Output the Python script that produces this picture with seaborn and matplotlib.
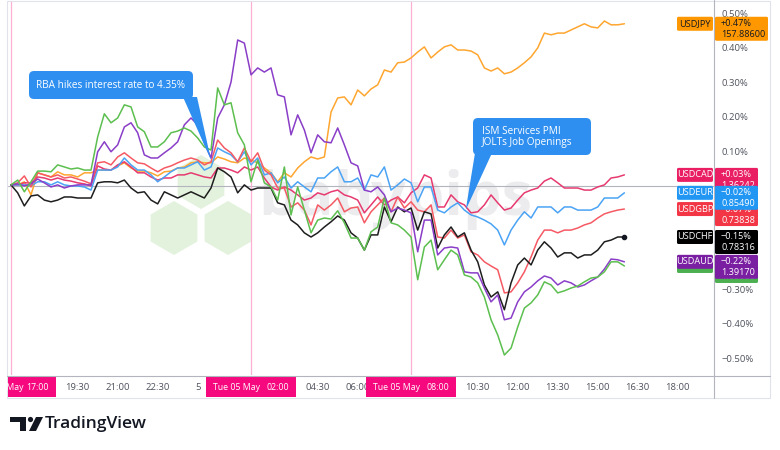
import numpy as np
import pandas as pd
import matplotlib
matplotlib.use("Agg")
import matplotlib.pyplot as plt
import seaborn as sns
from matplotlib.patches import FancyBboxPatch, Polygon, RegularPolygon, Circle, Rectangle

# 15 minute steps, hour 0 = Mon 04 May 17:00
hours = np.arange(93) * 0.25

# % change since the start of the window
usdjpy = [0.003, 0.003, 0.012, -0.026, 0.038, 0.032, 0.026, 0.041, 0.032, 0.032,
          0.026, 0.038, 0.038, 0.046, 0.046, 0.046, 0.058, 0.067, 0.052, 0.043,
          0.043, 0.038, 0.029, 0.041, 0.043, 0.052, 0.055, 0.067, 0.070, 0.067,
          0.067, 0.084, 0.078, 0.070, 0.067, 0.081, 0.075, 0.067, 0.052, 0.038,
          0.012, 0.038, 0.026, 0.052, 0.070, 0.084, 0.078, 0.084, 0.214, 0.255,
          0.258, 0.235, 0.278, 0.261, 0.281, 0.293, 0.336, 0.330, 0.357, 0.359,
          0.371, 0.388, 0.403, 0.371, 0.388, 0.403, 0.409, 0.394, 0.394, 0.391,
          0.380, 0.342, 0.333, 0.342, 0.325, 0.330, 0.342, 0.357, 0.374, 0.400,
          0.443, 0.438, 0.443, 0.443, 0.452, 0.461, 0.470, 0.461, 0.458, 0.478,
          0.467, 0.467, 0.470]
usdcad = [0.003, 0.003, 0.009, 0.009, 0.026, 0.023, 0.017, 0.023, 0.017, 0.014,
          0.009, 0.006, 0.000, 0.058, 0.049, 0.046, 0.061, 0.070, 0.055, 0.038,
          0.038, 0.026, 0.017, 0.023, 0.023, 0.032, 0.032, 0.038, 0.032, 0.026,
          0.023, 0.052, 0.052, 0.046, 0.038, 0.055, 0.046, 0.055, 0.023, -0.003,
          -0.012, -0.003, -0.012, -0.026, -0.041, -0.035, -0.020, -0.026, -0.017, -0.012,
          -0.026, -0.032, -0.041, -0.078, -0.055, -0.032, -0.055, -0.041, -0.032, -0.049,
          -0.020, -0.006, 0.032, 0.023, -0.061, -0.061, -0.026, -0.046, -0.055, -0.078,
          -0.075, -0.055, -0.026, -0.049, -0.070, -0.064, -0.041, -0.020, -0.012, -0.006,
          0.014, 0.023, 0.009, -0.006, -0.006, -0.006, -0.012, -0.012, -0.003, 0.003,
          0.023, 0.026, 0.032]
usdeur = [0.003, 0.003, 0.003, 0.000, 0.012, 0.012, 0.003, 0.012, 0.003, 0.000,
          0.000, -0.003, -0.012, 0.046, 0.046, 0.046, 0.055, 0.081, 0.061, 0.046,
          0.046, 0.032, 0.012, 0.026, 0.041, 0.052, 0.052, 0.061, 0.070, 0.046,
          0.055, 0.110, 0.099, 0.090, 0.070, 0.099, 0.061, 0.081, 0.032, 0.038,
          0.009, 0.026, -0.006, 0.012, -0.003, -0.017, 0.023, 0.023, 0.041, 0.055,
          0.012, 0.012, 0.023, -0.012, 0.032, 0.026, 0.055, -0.012, 0.003, 0.020,
          0.009, -0.046, -0.003, -0.003, -0.070, -0.078, -0.061, -0.049, -0.070, -0.084,
          -0.090, -0.099, -0.110, -0.128, -0.171, -0.128, -0.099, -0.075, -0.093, -0.061,
          -0.061, -0.061, -0.078, -0.061, -0.061, -0.070, -0.070, -0.070, -0.061, -0.035,
          -0.035, -0.035, -0.020]
usdgbp = [0.003, 0.009, 0.029, -0.003, 0.038, 0.032, 0.026, 0.032, 0.023, 0.026,
          0.020, 0.014, 0.006, 0.067, 0.070, 0.061, 0.084, 0.096, 0.081, 0.067,
          0.064, 0.052, 0.041, 0.052, 0.058, 0.067, 0.075, 0.081, 0.075, 0.061,
          0.070, 0.133, 0.110, 0.096, 0.070, 0.110, 0.070, 0.096, 0.046, 0.032,
          -0.006, -0.006, -0.061, -0.049, -0.070, -0.113, -0.055, -0.070, -0.055, -0.035,
          -0.075, -0.064, -0.061, -0.107, -0.075, -0.055, -0.035, -0.075, -0.032, -0.064,
          -0.046, -0.070, -0.075, -0.055, -0.148, -0.151, -0.128, -0.151, -0.142, -0.191,
          -0.200, -0.220, -0.232, -0.243, -0.310, -0.307, -0.281, -0.249, -0.206, -0.157,
          -0.128, -0.128, -0.136, -0.128, -0.128, -0.122, -0.113, -0.107, -0.093, -0.081,
          -0.075, -0.070, -0.067]
usdchf = [0.003, -0.020, -0.058, -0.029, -0.026, -0.041, -0.046, -0.041, -0.032, -0.032,
          -0.035, -0.035, -0.035, 0.009, 0.012, 0.012, 0.009, 0.017, -0.006, -0.020,
          -0.017, -0.041, -0.052, -0.017, -0.026, -0.035, -0.026, -0.017, -0.026, -0.035,
          -0.006, 0.052, 0.041, 0.026, -0.020, 0.003, -0.012, -0.006, -0.006, -0.006,
          -0.049, -0.055, -0.099, -0.113, -0.136, -0.148, -0.136, -0.119, -0.104, -0.087,
          -0.099, -0.136, -0.151, -0.186, -0.142, -0.142, -0.061, -0.104, -0.061, -0.075,
          -0.064, -0.128, -0.075, -0.081, -0.180, -0.142, -0.119, -0.148, -0.136, -0.186,
          -0.220, -0.287, -0.322, -0.307, -0.359, -0.281, -0.229, -0.209, -0.229, -0.186,
          -0.162, -0.180, -0.206, -0.194, -0.194, -0.209, -0.200, -0.200, -0.186, -0.162,
          -0.157, -0.148, -0.148]
usdaud = [0.003, 0.006, 0.000, 0.006, 0.020, 0.009, -0.003, 0.003, -0.006, 0.000,
          0.003, 0.003, 0.003, 0.099, 0.128, 0.099, 0.119, 0.171, 0.183, 0.154,
          0.090, 0.081, 0.081, 0.096, 0.110, 0.128, 0.177, 0.197, 0.177, 0.125,
          0.081, 0.197, 0.235, 0.301, 0.423, 0.414, 0.322, 0.342, 0.330, 0.342,
          0.264, 0.258, 0.148, 0.206, 0.162, 0.096, 0.148, 0.128, 0.125, 0.168,
          0.119, 0.067, 0.058, -0.012, -0.017, -0.003, -0.026, -0.075, -0.064, -0.070,
          -0.078, -0.191, -0.099, -0.099, -0.200, -0.180, -0.177, -0.180, -0.249, -0.252,
          -0.252, -0.296, -0.336, -0.316, -0.388, -0.383, -0.336, -0.307, -0.293, -0.275,
          -0.261, -0.267, -0.287, -0.275, -0.281, -0.293, -0.287, -0.275, -0.264, -0.241,
          -0.212, -0.214, -0.220]
usdnzd = [0.003, 0.017, -0.017, 0.012, 0.043, 0.043, 0.041, 0.061, 0.055, 0.049,
          0.052, 0.046, 0.046, 0.142, 0.209, 0.183, 0.197, 0.235, 0.229, 0.171,
          0.157, 0.113, 0.113, 0.128, 0.154, 0.159, 0.168, 0.159, 0.139, 0.113,
          0.104, 0.284, 0.235, 0.241, 0.154, 0.119, 0.012, 0.075, 0.009, -0.003,
          -0.041, 0.055, -0.084, -0.003, -0.070, -0.136, -0.099, -0.093, -0.096, -0.072,
          -0.107, -0.151, -0.151, -0.186, -0.133, -0.119, -0.035, -0.107, -0.113, -0.128,
          -0.148, -0.272, -0.177, -0.157, -0.243, -0.214, -0.186, -0.200, -0.258, -0.264,
          -0.281, -0.322, -0.388, -0.432, -0.490, -0.470, -0.409, -0.354, -0.339, -0.316,
          -0.278, -0.287, -0.310, -0.304, -0.296, -0.290, -0.278, -0.267, -0.264, -0.249,
          -0.220, -0.220, -0.232]

pairs = ["USDJPY", "USDCAD", "USDEUR", "USDGBP", "USDCHF", "USDAUD", "USDNZD"]
series = [usdjpy, usdcad, usdeur, usdgbp, usdchf, usdaud, usdnzd]
last_pct = ["+0.47%", "+0.03%", "\u22120.02%", "\u22120.07%", "\u22120.15%", "\u22120.22%", "\u22120.23%"]
last_price = ["157.88600", "1.36242", "0.85490", "0.73838", "0.78316", "1.39170", "1.69880"]

line_colors = {"USDJPY": "#ffa630", "USDCAD": "#e63a70", "USDEUR": "#4aa3f5", "USDGBP": "#f55a64",
               "USDCHF": "#1e1e1e", "USDAUD": "#8a3ec8", "USDNZD": "#5cbf4f"}
box_colors = {"USDJPY": "#ff9800", "USDCAD": "#e91e63", "USDEUR": "#2196f3", "USDGBP": "#f23645",
              "USDCHF": "#000000", "USDAUD": "#7b1fa2", "USDNZD": "#4caf50"}

y_ticks = [0.5, 0.4, 0.3, 0.2, 0.1, -0.3, -0.4, -0.5]
y_labels = ["0.50%", "0.40%", "0.30%", "0.20%", "0.10%", "\u22120.30%", "\u22120.40%", "\u22120.50%"]
x_ticks = [2.5, 4, 5.5, 7, 11.5, 13, 17.5, 19, 20.5, 22, 23.5, 25]
x_labels = ["19:30", "21:00", "22:30", "5", "04:30", "06:00", "10:30", "12:00", "13:30", "15:00", "16:30", "18:00"]
day_marks = [0, 9, 15]
day_dates = ["Mon 04 May", "Tue 05 May", "Tue 05 May"]
day_times = ["17:00", "02:00", "08:00"]

df = pd.concat([pd.DataFrame({"hour": hours, "pct": v, "pair": p}) for p, v in zip(pairs, series)])

sns.set_theme(style="white")
plt.rcParams["font.family"] = ["Open Sans", "DejaVu Sans"]

W, H = 780, 450
fig = plt.figure(figsize=(W / 100, H / 100), dpi=100)
fig.patch.set_facecolor("white")


def overlay(z):
    a = fig.add_axes([0, 0, 1, 1], zorder=z)
    a.set_xlim(0, W)
    a.set_ylim(H, 0)
    a.axis("off")
    return a


bg = overlay(0)
ax = fig.add_axes([8 / W, 1 - 375 / H, 706 / W, 374 / H], zorder=1)
ax.patch.set_alpha(0)
fg = overlay(2)

# watermark
for cx, cy in [(174, 228), (228, 228), (201, 182)]:
    bg.add_patch(RegularPolygon((cx, cy), 6, radius=27, orientation=0, fc="#e3f2dd", ec="none"))
bg.text(258, 215, "babypips", fontsize=44, fontweight="bold", color="#ececee", va="baseline")

ax.axhline(0, color="#b2b5be", lw=0.8, zorder=0.5)
for d in day_marks:
    ax.axvline(d, color="#fbb0d4", lw=0.9, zorder=0.5)

sns.lineplot(data=df, x="hour", y="pct", hue="pair", hue_order=pairs, palette=line_colors,
             linewidth=1.1, legend=False, estimator=None, sort=False, ax=ax)
ax.plot(hours[-1], usdchf[-1], "o", color="#131722", ms=3)

ax.set_xlim(-0.1125, 26.36)
ax.set_ylim(-0.548, 0.536)
ax.set_xlabel("")
ax.set_ylabel("")
ax.yaxis.tick_right()
ax.set_yticks(y_ticks)
ax.set_yticklabels(y_labels)
ax.set_xticks(x_ticks)
ax.set_xticklabels(x_labels)
ax.tick_params(axis="y", length=0, pad=5.5, labelsize=6.8, labelcolor="#50535e")
ax.tick_params(axis="x", length=0, pad=6, labelsize=6.8, labelcolor="#50535e")
for s in ax.spines.values():
    s.set_visible(False)


def to_px(x, y):
    dx, dy = ax.transData.transform((x, y))
    return dx, H - dy


# chart frame
fg.add_patch(Rectangle((7, 0.5), 763, 397.5, fill=False, ec="#e0e3eb", lw=0.8))
fg.plot([7, 770], [376, 376], color="#b2b5be", lw=0.8)
fg.plot([714, 714], [0, 398], color="#b2b5be", lw=0.8)

# crosshair date labels
clip = Rectangle((8, 0), W - 8, H, transform=fg.transData)
for d, date, tm in zip(day_marks, day_dates, day_times):
    px, _ = to_px(d, 0)
    box = FancyBboxPatch((px - 45, 377), 90, 20, boxstyle="square,pad=0", fc="#f6087f", ec="none")
    fg.add_patch(box)
    box.set_clip_path(clip)
    for txt, xx, ha in [(date, px - 38, "left"), (tm, px + 38, "right")]:
        t = fg.text(xx, 387.5, txt, ha=ha, va="center", color="white", fontsize=6.3)
        t.set_clip_path(clip)

# event callouts
blue = "#2e8ff0"
tip1 = to_px(7.5, 0.075)
fg.add_patch(FancyBboxPatch((29, 71), 164, 28, boxstyle="round,pad=0,rounding_size=5", fc=blue, ec="none"))
fg.add_patch(Polygon([(183, 97), (197, 97), tip1], fc=blue, ec="none"))
fg.text(111, 85, "RBA hikes interest rate to 4.35%", ha="center", va="center", color="white", fontsize=7.2)

tip2 = to_px(17.05, -0.07)
fg.add_patch(FancyBboxPatch((473, 118), 118, 37, boxstyle="round,pad=0,rounding_size=5", fc=blue, ec="none"))
fg.add_patch(Polygon([(475, 153), (492, 153), tip2], fc=blue, ec="none"))
fg.text(482, 131, "ISM Services PMI", ha="left", va="center", color="white", fontsize=7.2)
fg.text(482, 143, "JOLTs Job Openings", ha="left", va="center", color="white", fontsize=7.2)

# last value tags on the price scale, later tags cover earlier ones
order = ["USDJPY", "USDCHF", "USDNZD", "USDAUD", "USDCAD", "USDGBP", "USDEUR"]
for k, p in enumerate(order):
    i = pairs.index(p)
    z = 10 + 2 * k
    _, cy = to_px(hours[-1], series[i][-1])
    fc = box_colors[p]
    tc = "#131722" if p == "USDJPY" else "white"
    w = 8 + 5 * len(last_price[i])
    fg.add_patch(FancyBboxPatch((677, cy - 7), 36, 14, boxstyle="round,pad=0,rounding_size=1.5",
                                fc=fc, ec="none", zorder=z))
    fg.add_patch(FancyBboxPatch((715, cy - 7), w, 24, boxstyle="round,pad=0,rounding_size=1.5",
                                fc=fc, ec="none", zorder=z))
    fg.text(695, cy, p, ha="center", va="center", color=tc, fontsize=6.6, zorder=z + 1)
    fg.text(721, cy, last_pct[i], ha="left", va="center", color=tc, fontsize=6.6, zorder=z + 1)
    fg.text(721, cy + 11, last_price[i], ha="left", va="center", color=tc, fontsize=6.6, zorder=z + 1)

# TradingView logo
ink = "#131722"
fg.add_patch(Rectangle((10, 417), 16, 5, fc=ink, ec="none"))
fg.add_patch(Rectangle((20, 417), 6, 14, fc=ink, ec="none"))
fg.add_patch(Circle((30.5, 419.5), 2.6, fc=ink, ec="none"))
fg.add_patch(Polygon([(36, 417), (43, 417), (36, 431), (29, 431)], fc=ink, ec="none"))
fg.text(45, 424.5, "TradingView", ha="left", va="center", fontsize=12.5, fontweight="semibold", color=ink)

fig.savefig("out.png", dpi=100, facecolor="white")
